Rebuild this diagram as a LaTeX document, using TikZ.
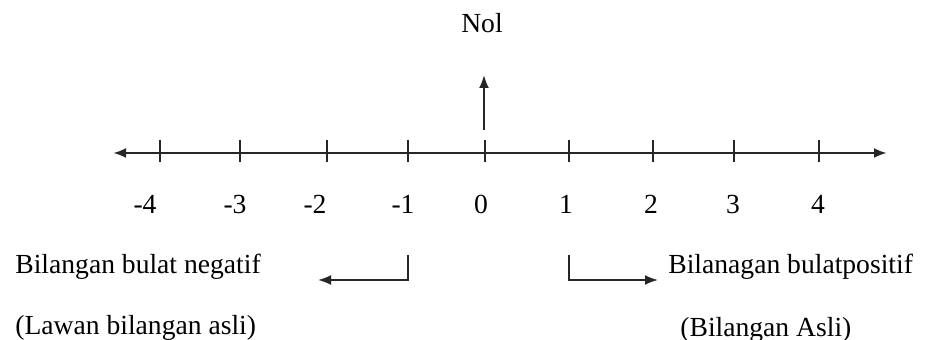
\documentclass[tikz,border=0pt]{standalone}
\usepackage{fontspec}
\setmainfont{Liberation Serif}
\usetikzlibrary{arrows.meta,positioning}

\begin{document}
\begin{tikzpicture}[
        x=0.5pt, y=-0.5pt,
        txt/.style={font=\fontsize{13.8}{16}\selectfont, inner sep=0pt},
        sidetxt/.style={txt, anchor=west},
        numtxt/.style={txt, anchor=base},
        axisline/.style={{Latex[length=6.5pt,width=5pt]}-{Latex[length=6.5pt,width=5pt]}, line width=1.4pt, black!85},
        tickmark/.style={line width=1pt, black!85},
        arr/.style={-{Latex[length=6.5pt,width=5pt]}, line width=1pt, black!85}
    ]
      \useasboundingbox (0,0) rectangle (929,340);
      % number line
      \coordinate (axL) at (113,153);
      \coordinate (axR) at (887,153);
      \draw[axisline] (axL) -- (axR);
      \foreach \i/\v/\x/\lx in {1/-4/160/145, 2/-3/240/235, 3/-2/327/315, 4/-1/408/403,
                               5/0/485/481, 6/1/569/566, 7/2/653/651, 8/3/734/733, 9/4/819/818} {
        \draw[tickmark] (\x,140) -- (\x,162);
        \node[numtxt] (num\i) at (\lx,214) {\v};
      }
      % zero marker
      \node[txt, anchor=base] (nol) at (482,33) {Nol};
      \coordinate (upS) at (484,130);
      \coordinate (upE) at (484,75);
      \draw[arr] (upS) -- (upE);
      % negative side
      \coordinate (negS) at (408,255);
      \coordinate (negE) at (318,280);
      \draw[arr] (negS) |- (negE);
      \node[sidetxt] (neg) at (15,267) {Bilangan bulat negatif};
      \node[sidetxt] (negsub) at (15,328) {(Lawan bilangan asli)};
      % positive side
      \coordinate (posS) at (569,255);
      \coordinate (posE) at (658,280);
      \draw[arr] (posS) |- (posE);
      \node[sidetxt] (pos) at (668,267) {Bilanagan bulatpositif};
      \node[sidetxt] (possub) at (680,330) {(Bilangan Asli)};
    \end{tikzpicture}
\end{document}
